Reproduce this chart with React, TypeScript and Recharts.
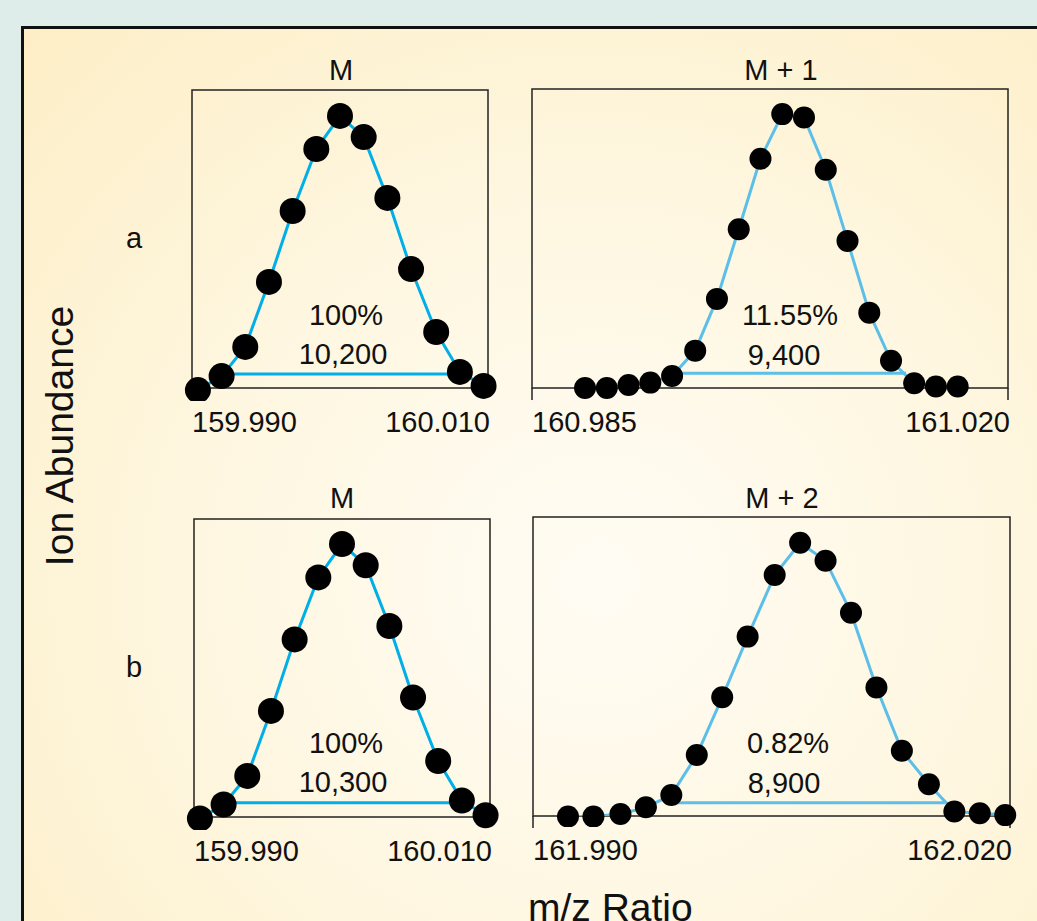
import React from 'react';
import { ComposedChart, Line, XAxis, YAxis, ReferenceArea } from 'recharts';

const FONT = '"Liberation Sans", Arial, Helvetica, sans-serif';

// row a, M peak
const aM_mz = [159.9904, 159.992, 159.9936, 159.9952, 159.9968, 159.9984, 160.0, 160.0016, 160.0032, 160.0048, 160.0065, 160.0081, 160.0097];
const aM_abund = [-0.7, 4.0, 13.8, 35.6, 59.4, 80.2, 91.3, 84.2, 63.8, 39.9, 18.8, 5.4, 0.7];
const aM_baseMz = [159.992, 160.0081];
const aM_baseAbund = [4.7, 4.7];
const aM_range = [159.99, 160.01];
const aM_ticks = ['159.990', '160.010'];

// row a, M + 1 peak
const aM1_mz = [160.9889, 160.9905, 160.9921, 160.9937, 160.9953, 160.997, 160.9986, 161.0002, 161.0018, 161.0034, 161.005, 161.0066, 161.0082, 161.0098, 161.0114, 161.0131, 161.0147, 161.0163];
const aM1_abund = [0, 0, 1.0, 1.8, 4.0, 12.5, 29.8, 53.1, 76.7, 91.6, 90.5, 73.0, 49.2, 25.2, 9.1, 1.6, 0.5, 0.5];
const aM1_baseMz = [160.9953, 161.0125];
const aM1_baseAbund = [4.9, 4.9];
const aM1_range = [160.985, 161.02];
const aM1_ticks = ['160.985', '161.020'];

// row b, M peak
const bM_mz = [159.9904, 159.992, 159.9936, 159.9952, 159.9968, 159.9984, 160.0, 160.0016, 160.0032, 160.0048, 160.0065, 160.0081, 160.0097];
const bM_abund = [-0.5, 4.2, 13.8, 35.6, 59.6, 80.4, 91.6, 84.5, 64.1, 40.1, 18.8, 5.5, 0.6];
const bM_baseMz = [159.992, 160.0081];
const bM_baseAbund = [4.8, 4.8];
const bM_range = [159.99, 160.01];
const bM_ticks = ['159.990', '160.010'];

// row b, M + 2 peak
const bM2_mz = [161.9922, 161.9938, 161.9955, 161.9971, 161.9987, 162.0003, 162.0019, 162.0035, 162.0052, 162.0068, 162.0084, 162.01, 162.0116, 162.0132, 162.0149, 162.0165, 162.0181, 162.0197];
const bM2_abund = [-0.2, -0.2, 0.7, 2.9, 7.0, 20.4, 39.7, 60.0, 80.6, 91.4, 85.4, 68.0, 43.0, 21.8, 10.6, 1.5, 0.9, 0.3];
const bM2_baseMz = [161.9987, 162.0159];
const bM2_baseAbund = [4.4, 4.4];
const bM2_range = [161.99, 162.02];
const bM2_ticks = ['161.990', '162.020'];

const EdgeTick = (props: any) => {
  const { x, y, index, labels } = props;
  const first = index === 0;
  return (
    <text x={first ? x : x + 2} y={y} dy={30} textAnchor={first ? 'start' : 'end'}
      fontSize={29} fontFamily={FONT} fill="#111">
      {labels[index]}
    </text>
  );
};

function Peak(props: any) {
  const { left, top, w, h, mz, abund, baseMz, baseAbund, range, labels, color, r, endTicks } = props;
  const data = mz.map((x: number, i: number) => ({ x, y: abund[i] }));
  const base = baseMz.map((x: number, i: number) => ({ x, y: baseAbund[i] }));
  const m = { top: 30, right: 30, bottom: 0, left: 20 };
  return (
    <div style={{ position: 'absolute', left: left - m.left, top: top - m.top }}>
      <ComposedChart width={w + m.left + m.right} height={h + m.top + 60} margin={m}>
        <XAxis type="number" dataKey="x" domain={range} ticks={range} interval={0} height={60}
          axisLine={false} tickSize={12}
          tickLine={endTicks ? { stroke: '#222', strokeWidth: 1.5 } : { stroke: 'none' }}
          tick={(p: any) => <EdgeTick {...p} labels={labels} />} />
        <YAxis hide width={0} type="number" domain={[0, 100]} allowDataOverflow />
        <ReferenceArea x1={range[0]} x2={range[1]} y1={0} y2={100} fill="none" fillOpacity={0}
          stroke="#222" strokeWidth={1.5} />
        <Line data={base} dataKey="y" type="linear" stroke={color} strokeWidth={3} dot={false}
          isAnimationActive={false} />
        <Line data={data} dataKey="y" type="linear" stroke={color} strokeWidth={3}
          dot={{ r, fill: '#000', stroke: 'none', strokeWidth: 0, clipDot: false }}
          activeDot={false} isAnimationActive={false} />
      </ComposedChart>
    </div>
  );
}

const txt = { fontFamily: FONT, fill: '#111' };

export default function App() {
  return (
    <div style={{ position: 'absolute', left: 0, top: 0, width: 1037, height: 921, overflow: 'hidden', background: '#deecea' }}>
      <div style={{
        position: 'absolute', left: 21, top: 26, width: 1100, height: 1000,
        borderLeft: '3px solid #111', borderTop: '3px solid #111',
        background: 'radial-gradient(ellipse at 52% 55%, #fffcf4 0%, #fef7e2 45%, #fdeec6 100%)',
      }} />
      <Peak left={192} top={90} w={296} h={298} mz={aM_mz} abund={aM_abund} baseMz={aM_baseMz}
        baseAbund={aM_baseAbund} range={aM_range} labels={aM_ticks} color="#00aee8" r={13} />
      <Peak left={532} top={89} w={476} h={299} mz={aM1_mz} abund={aM1_abund} baseMz={aM1_baseMz}
        baseAbund={aM1_baseAbund} range={aM1_range} labels={aM1_ticks} color="#5bbfe9" r={11} endTicks />
      <Peak left={193.5} top={519} w={296} h={298} mz={bM_mz} abund={bM_abund} baseMz={bM_baseMz}
        baseAbund={bM_baseAbund} range={bM_range} labels={bM_ticks} color="#00aee8" r={13} />
      <Peak left={533} top={517} w={477} h={299} mz={bM2_mz} abund={bM2_abund} baseMz={bM2_baseMz}
        baseAbund={bM2_baseAbund} range={bM2_range} labels={bM2_ticks} color="#5bbfe9" r={11} endTicks />
      <svg width={1037} height={921} style={{ position: 'absolute', left: 0, top: 0, pointerEvents: 'none' }}>
        <g {...txt} fontSize={29} textAnchor="middle">
          <text x={341} y={80}>M</text>
          <text x={781} y={80}>M + 1</text>
          <text x={342} y={508}>M</text>
          <text x={782} y={508}>M + 2</text>
          <text x={346} y={325}>100%</text>
          <text x={343} y={364}>10,200</text>
          <text x={790} y={325}>11.55%</text>
          <text x={784} y={365}>9,400</text>
          <text x={346} y={753}>100%</text>
          <text x={343} y={792}>10,300</text>
          <text x={788} y={753}>0.82%</text>
          <text x={784} y={793}>8,900</text>
          <text x={134} y={248}>a</text>
          <text x={134} y={677}>b</text>
        </g>
        <text {...txt} fontSize={39} textAnchor="middle" x={73} y={436} transform="rotate(-90 73 436)">Ion Abundance</text>
        <text {...txt} fontSize={39} x={528} y={921}>m/z Ratio</text>
      </svg>
    </div>
  );
}
